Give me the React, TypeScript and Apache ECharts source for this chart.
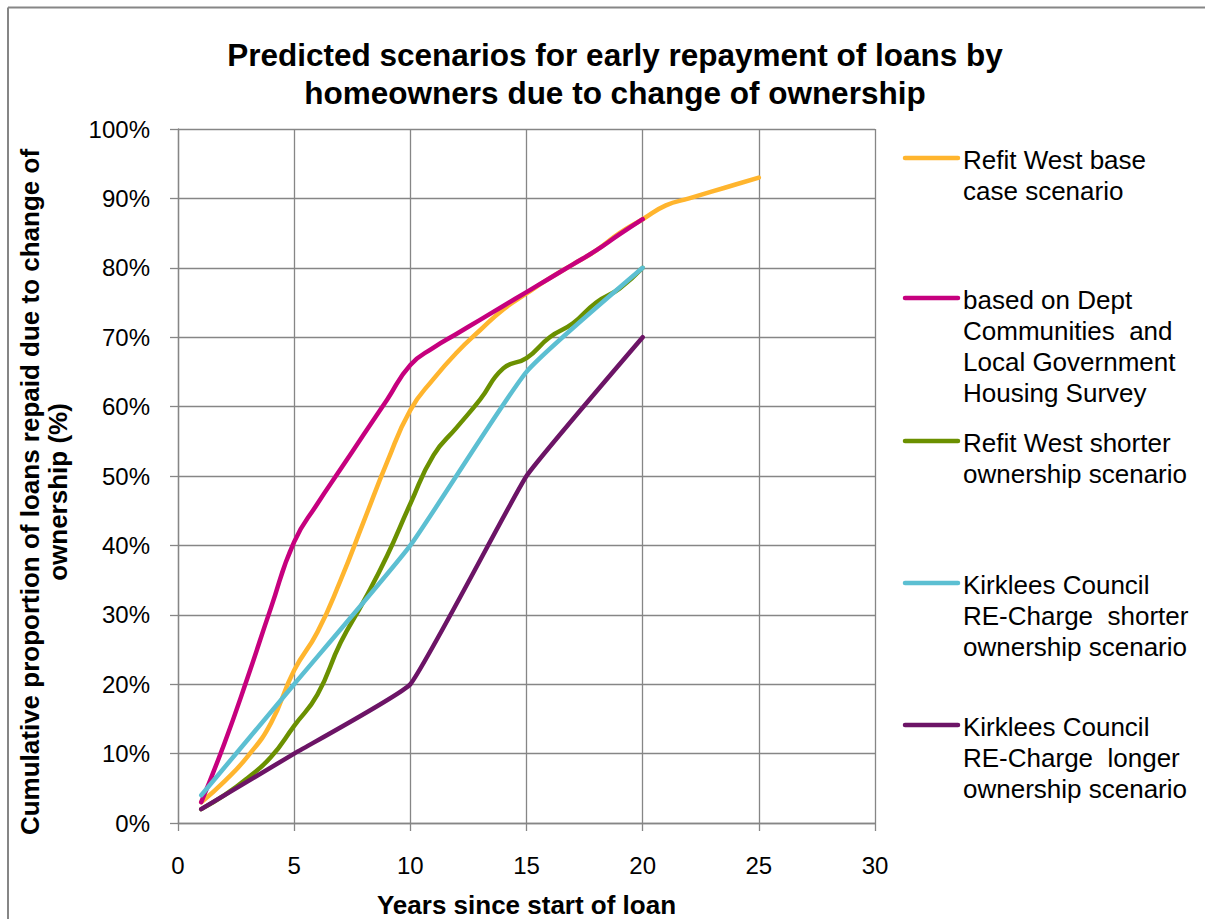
import React, { useEffect, useRef } from "react";
import * as echarts from "echarts";

const FONT = '"Liberation Sans", Arial, Helvetica, sans-serif';
const GRID_COLOR = "#868686";

// ---- data ----
const seriesNames = [
  "Refit West base case scenario",
  "based on Dept Communities and Local Government Housing Survey",
  "Refit West shorter ownership scenario",
  "Kirklees Council RE-Charge shorter ownership scenario",
  "Kirklees Council RE-Charge longer ownership scenario",
];
const legendLabels = [
  "Refit West base\ncase scenario",
  "based on Dept\nCommunities  and\nLocal Government\nHousing Survey",
  "Refit West shorter\nownership scenario",
  "Kirklees Council\nRE-Charge  shorter\nownership scenario",
  "Kirklees Council\nRE-Charge  longer\nownership scenario",
];
const seriesColors = ["#FFB52E", "#C6007E", "#6B9000", "#5CBFD2", "#6C1466"];

const refitBaseYears = [1, 2, 3, 4, 5, 6, 7, 8, 9, 10, 11, 12, 13, 14, 15, 16, 17, 18, 19, 20, 21, 22, 23, 24, 25];
const refitBaseValues = [3, 6, 9.6, 14.4, 22, 27.5, 35, 43.5, 52, 59.5, 64, 67.8, 71, 74, 76.3, 78.5, 80.5, 82.5, 85, 87, 89, 90, 91, 92, 93];

const deptYears = [1, 2, 3, 4, 5, 6, 7, 8, 9, 10, 11, 12, 13, 14, 15, 16, 17, 18, 19, 20];
const deptValues = [3, 11.5, 21, 31, 40.5, 46, 51, 56, 61, 66, 68.5, 70.5, 72.5, 74.5, 76.5, 78.5, 80.5, 82.5, 84.8, 87];

const refitShortYears = [1, 2, 3, 4, 5, 6, 7, 8, 9, 10, 11, 12, 13, 14, 15, 16, 17, 18, 19, 20];
const refitShortValues = [2, 4, 6.5, 9.5, 14, 18.5, 26, 32, 38.5, 46, 53, 57, 61, 65.5, 67, 70, 72, 75, 77, 80];

const kirkleesShortYears = [1, 5, 10, 15, 20];
const kirkleesShortValues = [4, 20, 40, 65, 80];

const kirkleesLongYears = [1, 5, 10, 15, 20];
const kirkleesLongValues = [2, 10, 20, 50, 70];

const xTicks = { min: 0, max: 30, interval: 5 };
const yTicks = { min: 0, max: 100, interval: 10 };

const allYears = [refitBaseYears, deptYears, refitShortYears, kirkleesShortYears, kirkleesLongYears];
const allValues = [refitBaseValues, deptValues, refitShortValues, kirkleesShortValues, kirkleesLongValues];
const smoothness = [0.5, 0.5, 0.5, 0.15, 0.1];

// legend layout
const legendFirstLineY = [160, 300, 443, 585, 727];

export default function App() {
  const ref = useRef<HTMLDivElement>(null);

  useEffect(() => {
    document.body.style.margin = "0";
    const chart = echarts.init(ref.current!, null, { renderer: "svg" });

    const series = seriesNames.map((name, i) => ({
      name,
      type: "line",
      data: allYears[i].map((x, j) => [x, allValues[i][j]]),
      smooth: smoothness[i],
      symbol: "none",
      showSymbol: false,
      lineStyle: { width: 4.5, color: seriesColors[i], cap: "round", join: "round" },
      itemStyle: { color: seriesColors[i] },
      z: 2 + i,
    }));

    const legendGraphics: any[] = [];
    legendLabels.forEach((label, i) => {
      const cy = legendFirstLineY[i];
      legendGraphics.push({
        type: "line",
        shape: { x1: 905, y1: cy - 2, x2: 958, y2: cy - 2 },
        style: { stroke: seriesColors[i], lineWidth: 4.5, lineCap: "round" },
      });
      legendGraphics.push({
        type: "text",
        x: 963,
        y: cy - 15.5,
        style: {
          text: label,
          fontSize: 26,
          fontFamily: FONT,
          fill: "#000",
          align: "left",
          verticalAlign: "top",
          lineHeight: 31,
        },
      });
    });

    const option: any = {
      animation: false,
      backgroundColor: "#fff",
      title: {
        text: "Predicted scenarios for early repayment of loans by\nhomeowners due to change of ownership",
        left: 610,
        top: 31,
        textAlign: "center",
        textStyle: {
          fontFamily: FONT,
          fontSize: 31.5,
          fontWeight: "bold",
          color: "#000",
          lineHeight: 38,
        },
      },
      legend: { show: false, data: seriesNames },
      grid: {
        left: 178,
        top: 129,
        width: 697,
        height: 694,
        containLabel: false,
        outerBoundsMode: "none",
      },
      xAxis: {
        type: "value",
        min: xTicks.min,
        max: xTicks.max,
        interval: xTicks.interval,
        name: "Years since start of loan",
        nameLocation: "middle",
        nameGap: 69,
        nameTextStyle: { fontFamily: FONT, fontSize: 26, fontWeight: "bold", color: "#000" },
        axisLine: { show: true, onZero: false, lineStyle: { color: GRID_COLOR, width: 1.3 } },
        axisTick: { show: true, length: 8, lineStyle: { color: GRID_COLOR, width: 1.3 } },
        splitLine: { show: true, lineStyle: { color: GRID_COLOR, width: 1.3 } },
        axisLabel: { fontFamily: FONT, fontSize: 24, color: "#000", margin: 30 },
      },
      yAxis: {
        type: "value",
        min: yTicks.min,
        max: yTicks.max,
        interval: yTicks.interval,
        axisLine: { show: true, lineStyle: { color: GRID_COLOR, width: 1.3 } },
        axisTick: { show: true, length: 8, lineStyle: { color: GRID_COLOR, width: 1.3 } },
        splitLine: { show: true, lineStyle: { color: GRID_COLOR, width: 1.3 } },
        axisLabel: { fontFamily: FONT, fontSize: 24, color: "#000", margin: 28, formatter: "{value}%" },
      },
      graphic: [
        {
          type: "line",
          shape: { x1: 8, y1: 7.5, x2: 1205, y2: 7.5 },
          style: { stroke: GRID_COLOR, lineWidth: 2 },
        },
        {
          type: "line",
          shape: { x1: 8, y1: 7.5, x2: 8, y2: 919 },
          style: { stroke: GRID_COLOR, lineWidth: 2 },
        },
        {
          type: "text",
          x: 44,
          y: 492,
          rotation: Math.PI / 2,
          style: {
            text: "Cumulative proportion of loans repaid due to change of\nownership (%)",
            fontSize: 26,
            fontWeight: "bold",
            fontFamily: FONT,
            fill: "#000",
            align: "center",
            verticalAlign: "middle",
            lineHeight: 28,
          },
        },
        ...legendGraphics,
      ],
      series,
    };

    chart.setOption(option);
    return () => chart.dispose();
  }, []);

  return <div ref={ref} style={{ width: 1205, height: 919 }} />;
}
